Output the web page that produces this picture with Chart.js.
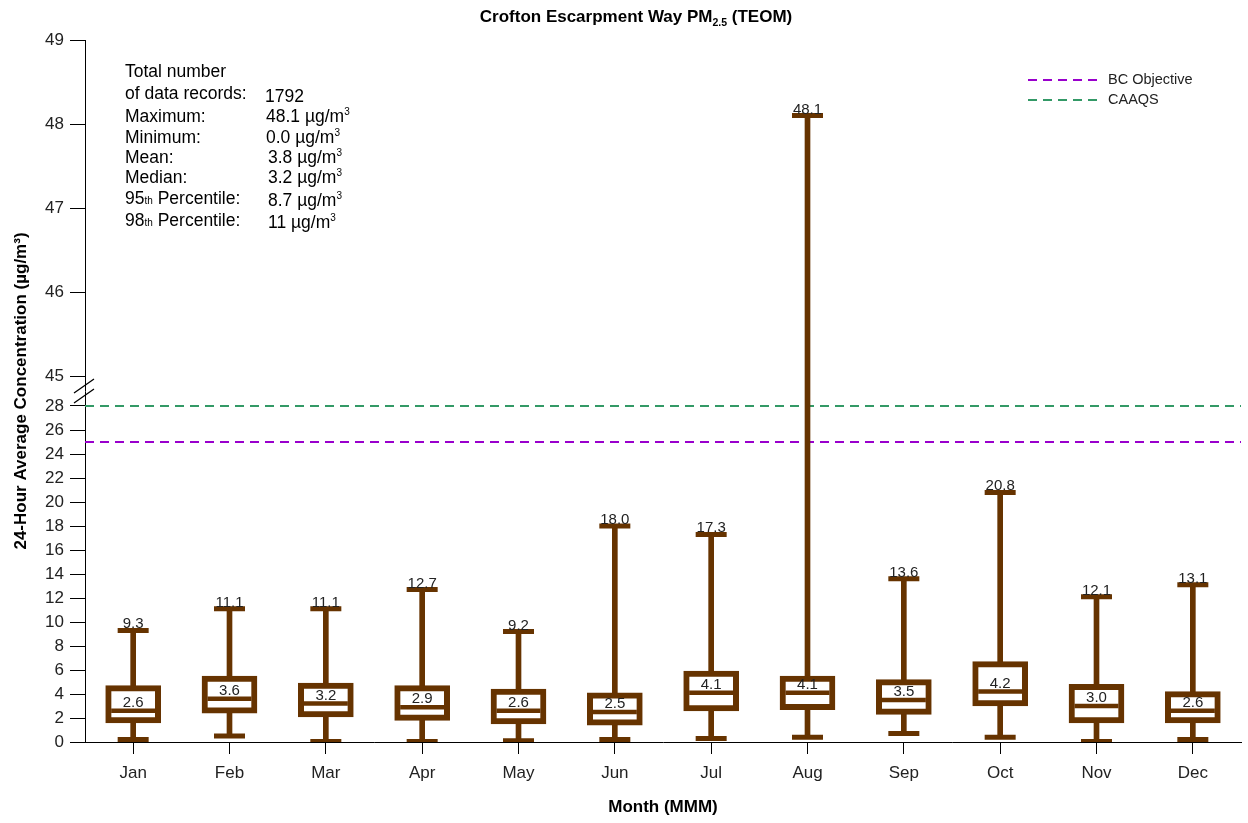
<!DOCTYPE html>
<html>
<head>
<meta charset="utf-8">
<script src="https://cdn.jsdelivr.net/npm/chart.js@4.4.1/dist/chart.umd.min.js"></script>
<style>
  html, body { margin: 0; padding: 0; background: #fff; }
</style>
</head>
<body>
<canvas id="chart" width="1248" height="823"></canvas>
<script>
// monthly 24-hour PM2.5 box plot values (ug/m3)
const months = ['Jan', 'Feb', 'Mar', 'Apr', 'May', 'Jun', 'Jul', 'Aug', 'Sep', 'Oct', 'Nov', 'Dec'];
const mins    = [0.2, 0.5, 0.05, 0.05, 0.1, 0.2, 0.3, 0.4, 0.7, 0.4, 0.05, 0.2];
const q1s     = [1.6, 2.4, 2.1, 1.8, 1.5, 1.4, 2.6, 2.7, 2.3, 3.0, 1.6, 1.6];
const medians = [2.6, 3.6, 3.2, 2.9, 2.6, 2.5, 4.1, 4.1, 3.5, 4.2, 3.0, 2.6];
const q3s     = [4.7, 5.5, 4.9, 4.7, 4.4, 4.1, 5.9, 5.5, 5.2, 6.7, 4.8, 4.2];
const maxs    = [9.3, 11.1, 11.1, 12.7, 9.2, 18.0, 17.3, 48.1, 13.6, 20.8, 12.1, 13.1];

const bcObjective = 25;
const caaqs = 28;

// y ticks on both sides of the axis break
const yTicks = [0, 2, 4, 6, 8, 10, 12, 14, 16, 18, 20, 22, 24, 26, 28, 45, 46, 47, 48, 49];

// summary block
const statsLabels = ['Maximum:', 'Minimum:', 'Mean:', 'Median:'];
const statsValues = ['48.1', '0.0', '3.8', '3.2'];
const recordCount = '1792';
const p95 = '8.7';
const p98 = '11';

const BROWN = '#663300';
const PURPLE = '#9900CC';
const GREEN = '#339966';
const FONT = 'Arial, "Liberation Sans", sans-serif';

// broken axis: 0-28 at normal scale, 45-49 stretched above a small gap
const BREAK_LO = 28, BREAK_HI = 45, GAP = 2.5, STRETCH = 7;
function toAxis(v) {
  return v <= BREAK_LO ? v : BREAK_LO + GAP + (v - BREAK_HI) * STRETCH;
}
const yMax = toAxis(49);

// draws a run of text pieces, some raised or lowered
function drawRich(ctx, x, y, parts, bold) {
  ctx.textBaseline = 'alphabetic';
  ctx.textAlign = 'left';
  let cx = x;
  for (const p of parts) {
    ctx.font = (bold ? 'bold ' : '') + p.size + 'px ' + FONT;
    ctx.fillText(p.t, cx, y + (p.dy || 0));
    cx += ctx.measureText(p.t).width;
  }
  return cx - x;
}
function richWidth(ctx, parts, bold) {
  let w = 0;
  for (const p of parts) {
    ctx.font = (bold ? 'bold ' : '') + p.size + 'px ' + FONT;
    w += ctx.measureText(p.t).width;
  }
  return w;
}

const overlay = {
  id: 'overlay',
  afterDatasetsDraw(chart) {
    const ctx = chart.ctx;
    const x = chart.scales.x, y = chart.scales.y;
    const area = chart.chartArea;
    ctx.save();
    ctx.fillStyle = '#222';
    ctx.textAlign = 'center';
    ctx.textBaseline = 'alphabetic';
    ctx.font = '15px ' + FONT;
    months.forEach((m, i) => {
      const px = x.getPixelForValue(i);
      ctx.fillText(maxs[i].toFixed(1), px, y.getPixelForValue(toAxis(maxs[i])) - 2);
      ctx.fillText(medians[i].toFixed(1), px, y.getPixelForValue(medians[i]) - 4);
    });

    // axis break marks
    const yb = (y.getPixelForValue(toAxis(BREAK_LO)) + y.getPixelForValue(toAxis(BREAK_HI))) / 2;
    ctx.strokeStyle = '#000';
    ctx.lineWidth = 1.3;
    ctx.beginPath();
    ctx.moveTo(area.left - 11, yb + 2); ctx.lineTo(area.left + 9, yb - 12);
    ctx.moveTo(area.left - 11, yb + 12); ctx.lineTo(area.left + 9, yb - 2);
    ctx.stroke();

    // summary statistics
    ctx.fillStyle = '#000';
    const lx = 125, vx = 266, fs = 17.5;
    const rows = [71, 93, 116, 137, 157, 177, 198, 220].map(v => v + 6);
    drawRich(ctx, lx, rows[0], [{ t: 'Total number', size: fs }]);
    drawRich(ctx, lx, rows[1], [{ t: 'of data records:', size: fs }]);
    drawRich(ctx, vx - 1, rows[1] + 3, [{ t: recordCount, size: fs }]);
    const unit = [{ t: ' \u00b5g/m', size: fs }, { t: '3', size: 10, dy: -7 }];
    statsLabels.forEach((l, i) => {
      drawRich(ctx, lx, rows[i + 2], [{ t: l, size: fs }]);
      drawRich(ctx, vx + (i > 1 ? 2 : 0), rows[i + 2], [{ t: statsValues[i], size: fs }].concat(unit));
    });
    drawRich(ctx, lx, rows[6], [{ t: '95', size: fs }, { t: 'th', size: 10 }, { t: ' Percentile:', size: fs }]);
    drawRich(ctx, vx + 2, rows[6] + 2, [{ t: p95, size: fs }].concat(unit));
    drawRich(ctx, lx, rows[7], [{ t: '98', size: fs }, { t: 'th', size: 10 }, { t: ' Percentile:', size: fs }]);
    drawRich(ctx, vx + 2, rows[7] + 2, [{ t: p98, size: fs }].concat(unit));

    // legend for the two reference lines
    const refs = chart.data.datasets.filter(d => d.refLine);
    refs.forEach((d, i) => {
      const ly = 80 + i * 20;
      ctx.strokeStyle = d.borderColor;
      ctx.lineWidth = 2;
      ctx.setLineDash(d.borderDash);
      ctx.beginPath();
      ctx.moveTo(1028, ly); ctx.lineTo(1098, ly);
      ctx.stroke();
      ctx.setLineDash([]);
      ctx.fillStyle = '#222';
      ctx.textBaseline = 'middle';
      ctx.textAlign = 'left';
      ctx.font = '14.5px ' + FONT;
      ctx.fillText(d.label, 1108, ly);
    });

    // title with subscript
    const tparts = [
      { t: 'Crofton Escarpment Way PM', size: 17 },
      { t: '2.5', size: 10.5, dy: 4 },
      { t: ' (TEOM)', size: 17 }
    ];
    ctx.fillStyle = '#000';
    const tw = richWidth(ctx, tparts, true);
    drawRich(ctx, 636 - tw / 2, 22, tparts, true);
    ctx.restore();
  }
};

new Chart(document.getElementById('chart'), {
  type: 'bar',
  data: {
    labels: months,
    datasets: [{
      type: 'line',
      label: 'medians',
      data: medians,
      showLine: false,
      pointStyle: 'line',
      pointRadius: 22,
      pointHoverRadius: 22,
      pointBorderWidth: 4.5,
      pointBorderColor: BROWN,
      order: 0
    }, {
      type: 'line',
      label: 'max caps',
      data: maxs.map(toAxis),
      showLine: false,
      pointStyle: 'line',
      pointRadius: 15.5,
      pointBorderWidth: 5,
      pointBorderColor: BROWN,
      order: 1
    }, {
      type: 'line',
      label: 'min caps',
      data: mins,
      showLine: false,
      pointStyle: 'line',
      pointRadius: 15.5,
      pointBorderWidth: 5,
      pointBorderColor: BROWN,
      order: 1
    }, {
      label: 'boxes',
      data: months.map((m, i) => [q1s[i], q3s[i]]),
      backgroundColor: '#fff',
      borderColor: BROWN,
      borderWidth: 6,
      borderSkipped: false,
      barThickness: 55,
      grouped: false,
      order: 2
    }, {
      label: 'whiskers',
      data: months.map((m, i) => [toAxis(mins[i]), toAxis(maxs[i])]),
      backgroundColor: BROWN,
      borderWidth: 0,
      barThickness: 5,
      grouped: false,
      order: 3
    }, {
      type: 'line',
      label: 'BC Objective',
      refLine: true,
      xAxisID: 'x2',
      data: [{ x: 0, y: toAxis(bcObjective) }, { x: 1, y: toAxis(bcObjective) }],
      borderColor: PURPLE,
      borderWidth: 2,
      borderDash: [9, 6],
      pointRadius: 0,
      order: 4
    }, {
      type: 'line',
      label: 'CAAQS',
      refLine: true,
      xAxisID: 'x2',
      data: [{ x: 0, y: toAxis(caaqs) }, { x: 1, y: toAxis(caaqs) }],
      borderColor: GREEN,
      borderWidth: 2,
      borderDash: [9, 6],
      pointRadius: 0,
      order: 4
    }]
  },
  options: {
    responsive: false,
    animation: false,
    layout: { autoPadding: false, padding: { top: 40, right: 7, left: 0, bottom: 0 } },
    plugins: {
      legend: { display: false },
      tooltip: { enabled: false },
      title: { display: false }
    },
    scales: {
      x: {
        offset: true,
        grid: { drawOnChartArea: false, offset: false, tickLength: 12, color: '#000' },
        border: { color: '#000' },
        ticks: { color: '#222', font: { size: 17, family: FONT }, padding: 9 },
        title: { display: true, text: 'Month (MMM)', color: '#000', font: { size: 17, weight: 'bold', family: FONT }, padding: { top: 4, bottom: 5 } },
        afterFit(scale) { scale.height = 81; }
      },
      x2: { type: 'linear', min: 0, max: 1, offset: false, display: false },
      y: {
        min: 0,
        max: yMax,
        afterBuildTicks(scale) { scale.ticks = yTicks.map(v => ({ value: toAxis(v) })); },
        grid: { drawOnChartArea: false, tickLength: 15, color: '#000' },
        border: { color: '#000' },
        ticks: {
          autoSkip: false,
          color: '#222',
          padding: 6,
          font: { size: 17, family: FONT },
          callback: (v, i) => String(yTicks[i])
        },
        title: { display: true, text: '24-Hour Average Concentration (\u00b5g/m\u00b3)', color: '#000', font: { size: 17, weight: 'bold', family: FONT }, padding: { top: 11, bottom: 0 } },
        afterFit(scale) { scale.width = 85; }
      }
    }
  },
  plugins: [overlay]
});
</script>
</body>
</html>
